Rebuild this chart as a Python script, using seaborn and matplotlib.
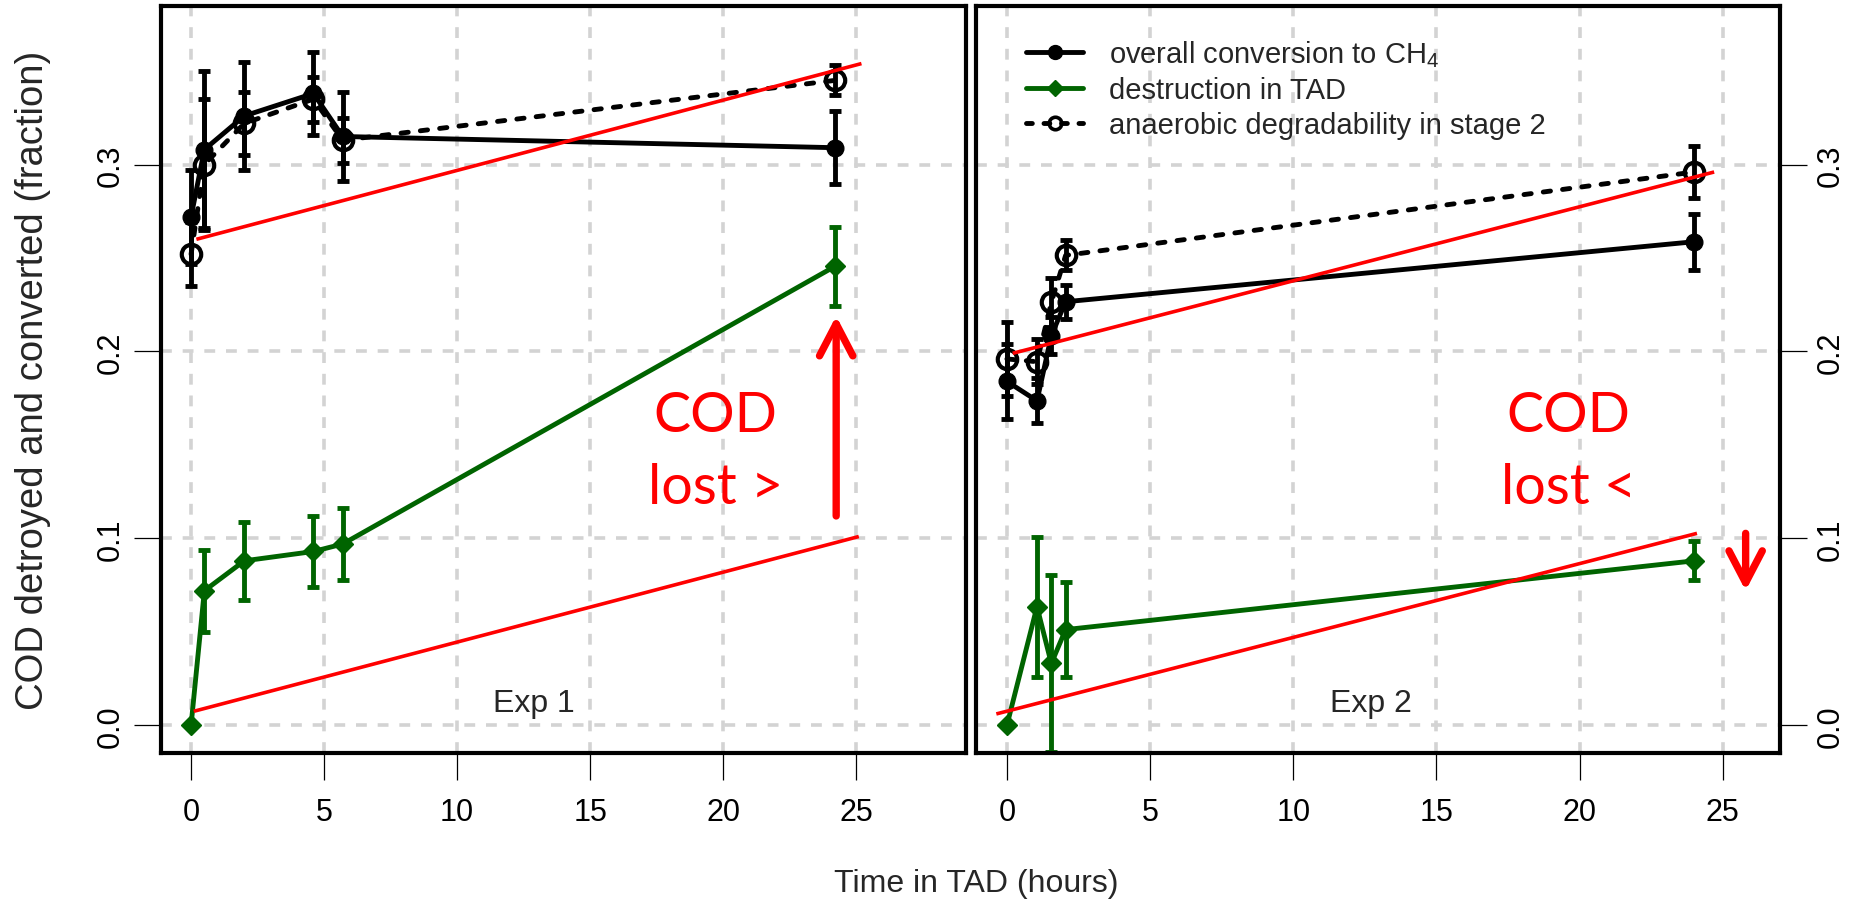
import numpy as np
import pandas as pd
import matplotlib
matplotlib.use("Agg")
import matplotlib.pyplot as plt
import seaborn as sns
from matplotlib.lines import Line2D

# ---------------- data ----------------
exp1_time = [0.0, 0.5, 2.0, 4.6, 5.7, 24.2]
exp1_ch4 = [0.272, 0.308, 0.326, 0.338, 0.315, 0.309]
exp1_ch4_err = [0.025, 0.042, 0.029, 0.022, 0.024, 0.0195]
exp1_tad = [0.0, 0.072, 0.088, 0.093, 0.097, 0.2455]
exp1_tad_err = [0.0, 0.022, 0.021, 0.019, 0.019, 0.021]
exp1_deg = [0.252, 0.300, 0.322, 0.335, 0.313, 0.345]
exp1_deg_err = [0.017, 0.035, 0.017, 0.012, 0.012, 0.008]
exp1_red_upper_x = [0.2, 25.2]
exp1_red_upper_y = [0.260, 0.354]
exp1_red_lower_x = [0.1, 25.1]
exp1_red_lower_y = [0.0075, 0.101]

exp2_time = [0.0, 1.05, 1.55, 2.05, 24.0]
exp2_ch4 = [0.184, 0.1736, 0.2084, 0.2266, 0.2587]
exp2_ch4_err = [0.020, 0.012, 0.010, 0.009, 0.015]
exp2_tad = [0.0, 0.0635, 0.0331, 0.0512, 0.088]
exp2_tad_err = [0.0, 0.0375, 0.0475, 0.0254, 0.0105]
exp2_deg = [0.196, 0.1945, 0.2262, 0.2514, 0.296]
exp2_deg_err = [0.020, 0.012, 0.013, 0.008, 0.014]
exp2_red_upper_x = [0.2, 24.7]
exp2_red_upper_y = [0.199, 0.296]
exp2_red_lower_x = [-0.37, 24.1]
exp2_red_lower_y = [0.0061, 0.1027]

x_ticks = [0, 5, 10, 15, 20, 25]
y_ticks = [0.0, 0.1, 0.2, 0.3]
y_tick_labels = ["0.0", "0.1", "0.2", "0.3"]
legend_labels = ["overall conversion to CH$_4$", "destruction in TAD",
                 "anaerobic degradability in stage 2"]
panel_labels = ["Exp 1", "Exp 2"]
cod_texts = [("COD", "lost >"), ("COD", "lost <")]

# ---------------- style ----------------
sns.set_theme(style="white")
plt.rcParams["font.family"] = ["Liberation Sans", "DejaVu Sans"]
plt.rcParams["mathtext.fontset"] = "custom"
plt.rcParams["mathtext.rm"] = "Liberation Sans"
plt.rcParams["mathtext.it"] = "Liberation Sans"
plt.rcParams["mathtext.default"] = "regular"

GREEN = "#006400"
RED = "#ff0000"
LW = 3.5
dotted = (0, (1.5, 2.5))

fig = plt.figure(figsize=(18.52, 9.03), dpi=100)
ax1 = fig.add_axes([161 / 1852, 149 / 903, 805 / 1852, 747 / 903])
ax2 = fig.add_axes([976 / 1852, 149 / 903, 804 / 1852, 747 / 903])


def draw_panel(ax, t, ch4, ch4e, tad, tade, deg, dege, rux, ruy, rlx, rly):
    # grid
    for xv in x_ticks:
        ax.axvline(xv, color="#d3d3d3", lw=2.6, linestyle=(0, (3, 3)), zorder=0)
    for yv in y_ticks:
        ax.axhline(yv, color="#d3d3d3", lw=2.6, linestyle=(0, (3, 3)), zorder=0)

    # series lines with markers
    sns.lineplot(x=t, y=deg, ax=ax, color="black", lw=LW, linestyle=dotted,
                 dash_capstyle="round", marker="o", markersize=14,
                 markerfacecolor="none", markeredgecolor="black",
                 markeredgewidth=3, sort=False, estimator=None, zorder=3)
    sns.lineplot(x=t, y=ch4, ax=ax, color="black", lw=LW, marker="o",
                 markersize=12, markerfacecolor="black",
                 markeredgecolor="black", markeredgewidth=1,
                 sort=False, estimator=None, zorder=3)
    sns.lineplot(x=t, y=tad, ax=ax, color=GREEN, lw=LW, marker="D",
                 markersize=10, markerfacecolor=GREEN, markeredgecolor=GREEN,
                 markeredgewidth=1, sort=False, estimator=None, zorder=3)

    # error bars
    for vals, errs, col in ((deg, dege, "black"), (ch4, ch4e, "black"),
                            (tad, tade, GREEN)):
        tt = [a for a, e in zip(t, errs) if e > 0]
        vv = [a for a, e in zip(vals, errs) if e > 0]
        ee = [e for e in errs if e > 0]
        ax.errorbar(tt, vv, yerr=ee, fmt="none", ecolor=col, elinewidth=LW,
                    capsize=4, capthick=LW, zorder=4)

    # red trend lines
    ax.plot(rux, ruy, color=RED, lw=2.6, zorder=5, solid_capstyle="butt")
    ax.plot(rlx, rly, color=RED, lw=2.6, zorder=5, solid_capstyle="butt")

    ax.set_ylim(-0.0148, 0.3848)
    ax.set_xticks(x_ticks)
    ax.set_xticklabels([str(v) for v in x_ticks])
    ax.set_yticks(y_ticks)
    ax.set_yticklabels(y_tick_labels, rotation=90, va="center")
    ax.tick_params(axis="both", direction="out", length=19.5, width=0.9,
                   color="black", labelsize=22, labelcolor="black")
    ax.tick_params(axis="x", pad=12)
    ax.tick_params(axis="y", pad=6)
    for s in ax.spines.values():
        s.set_visible(True)
        s.set_color("black")
        s.set_linewidth(3.0)
        s.set_zorder(7)
    ax.set_xlabel("")
    ax.set_ylabel("")


draw_panel(ax1, exp1_time, exp1_ch4, exp1_ch4_err, exp1_tad, exp1_tad_err,
           exp1_deg, exp1_deg_err, exp1_red_upper_x, exp1_red_upper_y,
           exp1_red_lower_x, exp1_red_lower_y)
draw_panel(ax2, exp2_time, exp2_ch4, exp2_ch4_err, exp2_tad, exp2_tad_err,
           exp2_deg, exp2_deg_err, exp2_red_upper_x, exp2_red_upper_y,
           exp2_red_lower_x, exp2_red_lower_y)

ax1.set_xlim(-1.13, 29.13)
ax2.set_xlim(-1.08, 27.0)
ax1.tick_params(axis="y", left=True, right=False, labelleft=True, labelright=False)
ax1.tick_params(axis="x", bottom=True, top=False)
ax2.yaxis.tick_right()
ax2.tick_params(axis="y", left=False, right=True, labelleft=False, labelright=True)
ax2.tick_params(axis="x", bottom=True, top=False)
for lab in ax2.get_yticklabels():
    lab.set_rotation(90)
    lab.set_va("center")

# panel labels
ax1.text(12.9, 0.0118, panel_labels[0], ha="center", va="center", fontsize=23, zorder=6)
ax2.text(12.7, 0.0118, panel_labels[1], ha="center", va="center", fontsize=23, zorder=6)

# COD annotations
for ax, (l1, l2), xc in zip((ax1, ax2), cod_texts, (19.7, 19.6)):
    ax.text(xc, 0.166, l1, color=RED, fontsize=40,
            family=["Lato", "DejaVu Sans"], ha="center", va="center", zorder=6)
    ax.text(xc, 0.127, l2, color=RED, fontsize=40,
            family=["Lato", "DejaVu Sans"], ha="center", va="center", zorder=6)

arrow_props = dict(arrowstyle="->,head_length=1.15,head_width=0.6",
                   color=RED, lw=5.3, shrinkA=0, shrinkB=0,
                   mutation_scale=20, capstyle="round", joinstyle="round")
ax1.annotate("", xy=(24.25, 0.219), xytext=(24.25, 0.112),
             arrowprops=arrow_props, zorder=6)
ax2.annotate("", xy=(25.8, 0.072), xytext=(25.8, 0.1027),
             arrowprops=arrow_props, zorder=6)

# legend
handles = [
    Line2D([], [], color="black", lw=LW, marker="o", markersize=10,
           markerfacecolor="black", markeredgecolor="black"),
    Line2D([], [], color=GREEN, lw=LW, marker="D", markersize=8,
           markerfacecolor=GREEN, markeredgecolor=GREEN),
    Line2D([], [], color="black", lw=LW, linestyle=(0, (1.2, 2.4)),
           dash_capstyle="round",
           marker="o", markersize=9, markerfacecolor="none",
           markeredgecolor="black", markeredgewidth=2.6),
]
ax2.legend(handles, legend_labels, loc="upper left", bbox_to_anchor=(0.0625, 0.957),
           frameon=False, fontsize=21, handlelength=1.95, handletextpad=0.89,
           labelspacing=0.24, borderpad=0, borderaxespad=0)

fig.text(0.0178, 0.579, "COD detroyed and converted (fraction)", rotation=90,
         ha="center", va="center", fontsize=27.5)
fig.text(0.527, 0.021, "Time in TAD (hours)", ha="center", va="center", fontsize=23)

fig.savefig("out.png", dpi=100)
